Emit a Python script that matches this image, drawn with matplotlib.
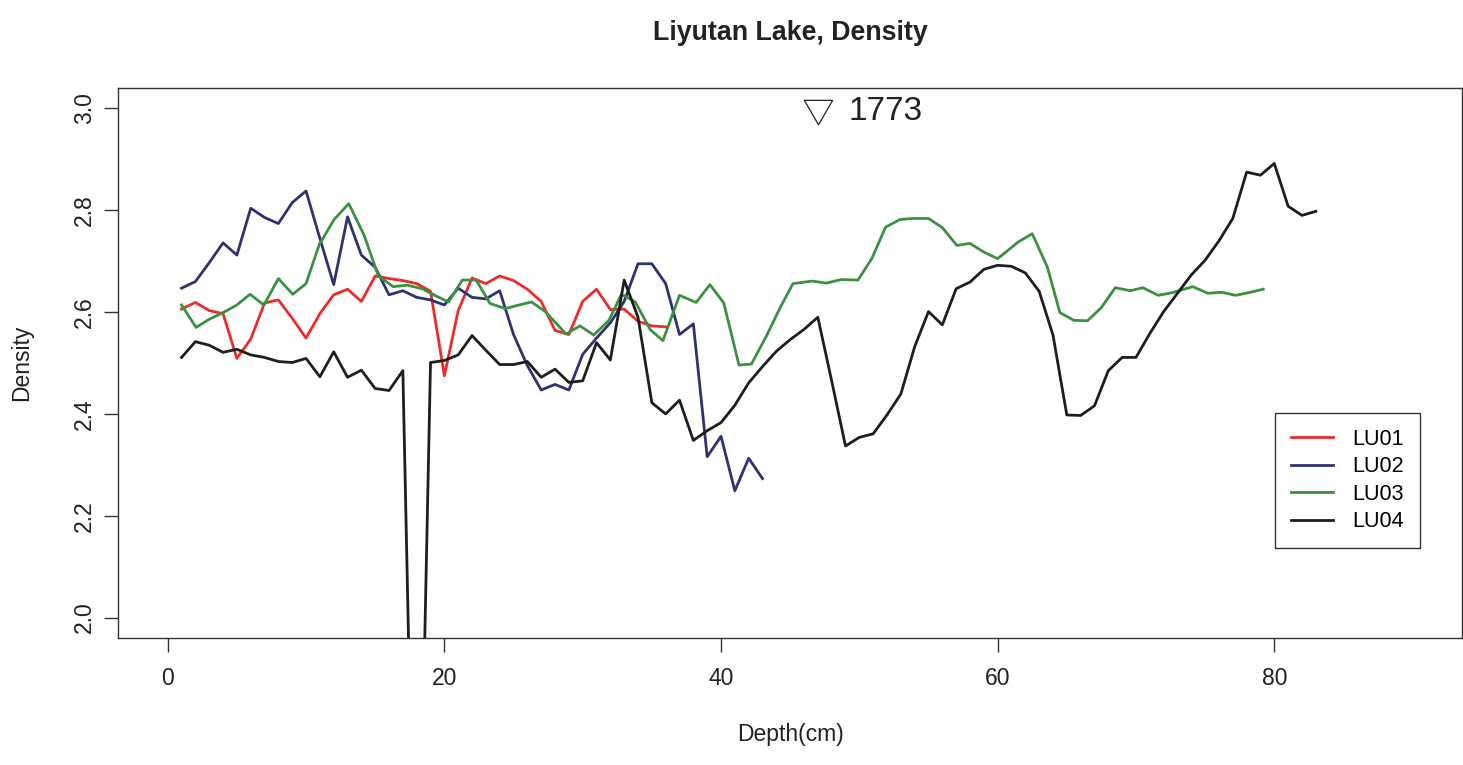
import matplotlib.pyplot as plt
from matplotlib.path import Path

plt.rcParams['font.family'] = ['Liberation Sans', 'DejaVu Sans']

# depth (cm) and density for each core
lu01_x = list(range(1, 37))
lu01 = [2.606, 2.619, 2.603, 2.597, 2.509, 2.547, 2.618, 2.624, 2.588, 2.549,
        2.597, 2.634, 2.645, 2.621, 2.671, 2.666, 2.662, 2.656, 2.641, 2.475,
        2.603, 2.667, 2.656, 2.671, 2.662, 2.645, 2.621, 2.564, 2.556, 2.621,
        2.645, 2.605, 2.606, 2.582, 2.573, 2.571]

lu02_x = list(range(1, 44))
lu02 = [2.647, 2.660, 2.697, 2.736, 2.712, 2.804, 2.786, 2.774, 2.815, 2.838,
        2.745, 2.654, 2.787, 2.712, 2.688, 2.634, 2.642, 2.629, 2.624, 2.614,
        2.647, 2.629, 2.626, 2.642, 2.556, 2.495, 2.447, 2.458, 2.447, 2.517,
        2.549, 2.579, 2.621, 2.695, 2.695, 2.656, 2.556, 2.577, 2.316, 2.356,
        2.249, 2.313, 2.273]

lu03_x = [1.0, 2.05, 3.0, 4.0, 5.0, 5.95, 6.96, 8.0, 9.04, 10.0,
          10.96, 12.03, 13.09, 14.2, 15.23, 16.3, 17.3, 18.4, 19.3, 20.3,
          21.3, 22.3, 23.3, 24.4, 25.4, 26.3, 27.3, 28.8, 29.8, 30.8,
          31.9, 32.8, 33.8, 34.9, 35.8, 37.0, 38.2, 39.2, 40.2, 41.3,
          42.2, 43.3, 44.3, 45.2, 46.6, 47.6, 48.7, 49.9, 50.9, 51.9,
          52.95, 53.9, 55.0, 56.0, 57.05, 58.0, 59.0, 60.0, 61.5, 62.5,
          63.6, 64.5, 65.5, 66.5, 67.5, 68.5, 69.6, 70.5, 71.6, 72.6,
          74.1, 75.2, 76.2, 77.2, 78.1, 79.2]
lu03 = [2.614, 2.570, 2.586, 2.599, 2.614, 2.635, 2.614, 2.666, 2.635, 2.656,
        2.733, 2.782, 2.813, 2.751, 2.671, 2.650, 2.653, 2.646, 2.633, 2.620,
        2.663, 2.663, 2.617, 2.607, 2.614, 2.620, 2.601, 2.557, 2.573, 2.555,
        2.584, 2.635, 2.620, 2.565, 2.544, 2.633, 2.619, 2.654, 2.618, 2.496,
        2.498, 2.554, 2.610, 2.656, 2.661, 2.657, 2.664, 2.663, 2.705, 2.767,
        2.782, 2.784, 2.784, 2.766, 2.731, 2.735, 2.718, 2.705, 2.738, 2.754,
        2.688, 2.599, 2.584, 2.583, 2.609, 2.648, 2.642, 2.648, 2.633, 2.638,
        2.650, 2.637, 2.639, 2.633, 2.638, 2.645]

lu04_x = list(range(1, 84))
lu04 = [2.511, 2.542, 2.535, 2.521, 2.527, 2.516, 2.511, 2.503, 2.501, 2.509,
        2.473, 2.522, 2.472, 2.486, 2.450, 2.446, 2.485, 1.20, 2.501, 2.505,
        2.516, 2.554, 2.525, 2.497, 2.497, 2.503, 2.472, 2.488, 2.462, 2.465,
        2.540, 2.506, 2.663, 2.590, 2.422, 2.400, 2.427, 2.348, 2.367, 2.383,
        2.417, 2.461, 2.493, 2.523, 2.546, 2.566, 2.590, 2.465, 2.337, 2.354,
        2.361, 2.398, 2.439, 2.532, 2.601, 2.575, 2.646, 2.659, 2.684, 2.692,
        2.690, 2.677, 2.641, 2.555, 2.398, 2.397, 2.416, 2.485, 2.511, 2.511,
        2.558, 2.601, 2.637, 2.673, 2.702, 2.740, 2.784, 2.875, 2.869, 2.892,
        2.808, 2.790, 2.798]

# 1773 marker
mark_depth = 47
mark_density = 3.0
mark_label = '1773'

x_ticks = [0, 20, 40, 60, 80]
y_ticks = [2.0, 2.2, 2.4, 2.6, 2.8, 3.0]

fig = plt.figure(figsize=(14.63, 7.65), dpi=100)
ax = fig.add_axes([0.0806, 0.1661, 0.9190, 0.7187])

ax.plot(lu01_x, lu01, color='#EE2A2A', lw=2, label='LU01')
ax.plot(lu02_x, lu02, color='#2E3270', lw=2, label='LU02')
ax.plot(lu03_x, lu03, color='#3A9140', lw=2, label='LU03')
ax.plot(lu04_x, lu04, color='#1E1E1E', lw=2, label='LU04')

# open equilateral triangle pointing down
tri = Path([(-1, 0.577), (1, 0.577), (0, -1.155), (-1, 0.577)],
           [Path.MOVETO, Path.LINETO, Path.LINETO, Path.CLOSEPOLY])
ax.plot([mark_depth], [mark_density], marker=tri, markersize=23.5,
        markerfacecolor='none', markeredgecolor='#222222',
        markeredgewidth=0.9, linestyle='none')
ax.text(mark_depth + 2.2, mark_density - 0.006, mark_label, ha='left',
        va='center', fontsize=24, color='#222222')

ax.set_xlim(-3.6, 93.6)
ax.set_ylim(1.96, 3.04)
ax.set_xticks(x_ticks)
ax.set_yticks(y_ticks)
ax.set_yticklabels(['%.1f' % v for v in y_ticks])
ax.tick_params(direction='out', length=10, width=1, labelsize=16.5,
               color='#333333', labelcolor='#222222')
ax.tick_params(axis='x', pad=11)
ax.tick_params(axis='y', pad=6, labelrotation=90)
for lab in ax.get_yticklabels():
    lab.set_va('center')
for s in ax.spines.values():
    s.set_linewidth(1.0)
    s.set_color('#333333')

leg = ax.legend(loc='lower right', bbox_to_anchor=(0.9686, 0.163),
                borderaxespad=0, fontsize=15.5, handlelength=1.95,
                handletextpad=0.9, labelspacing=0.3, borderpad=0.75,
                fancybox=False, edgecolor='#333333', framealpha=1)
leg.get_frame().set_linewidth(1.0)

fig.text(790.5 / 1463, 1 - 33 / 765, 'Liyutan Lake, Density', ha='center',
         va='center', fontsize=19.3, fontweight='bold', color='#222222')
fig.text(790.5 / 1463, 1 - 735 / 765, 'Depth(cm)', ha='center', va='center',
         fontsize=16.5, color='#222222')
fig.text(22 / 1463, 1 - 363 / 765, 'Density', ha='center', va='center',
         rotation=90, fontsize=16.5, color='#222222')

fig.savefig('out.png', dpi=100)
